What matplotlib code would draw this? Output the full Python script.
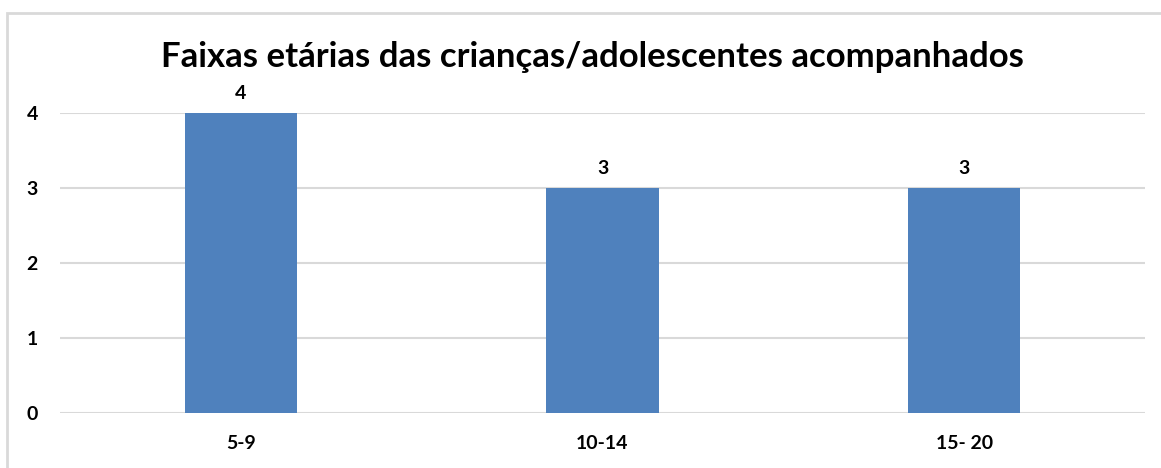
import matplotlib
matplotlib.use("Agg")
import matplotlib.pyplot as plt
from matplotlib.patches import Rectangle

# age groups and number of children/adolescents
categories = ["5-9", "10-14", "15- 20"]
values = [4, 3, 3]
yticks = [0, 1, 2, 3, 4]

plt.rcParams['font.family'] = ['Lato', 'DejaVu Sans']

W, H = 1161, 468
fig = plt.figure(figsize=(W / 100, H / 100), dpi=100)

# light grey frame round the chart area (cut off right and bottom)
fig.patches.append(Rectangle((7 / W, -0.1), 1.2, (H - 13) / H + 0.1,
                             transform=fig.transFigure, fill=False,
                             edgecolor='#D9D9D9', linewidth=2))

ax = fig.add_axes([60 / W, (H - 413) / H, (1145 - 60) / W, 300 / H])
x = range(len(categories))
bars = ax.bar(x, values, width=0.31, color='#4F81BD', zorder=3)

for xi, v in zip(x, values):
    ax.text(xi, v + 0.15, str(v), ha='center', va='bottom',
            fontsize=14, fontweight='bold')

ax.set_xlim(-0.5, len(categories) - 0.5)
ax.set_ylim(0, 4)
ax.set_yticks(yticks)
ax.set_yticklabels([str(t) for t in yticks], fontsize=14, fontweight='bold')
ax.set_xticks(list(x))
ax.set_xticklabels(categories, fontsize=14, fontweight='bold')
ax.tick_params(length=0)
ax.tick_params(axis='y', pad=16)
ax.tick_params(axis='x', pad=16)
ax.grid(axis='y', color='#D9D9D9', linewidth=1.5, zorder=0)
ax.set_axisbelow(True)
for s in ax.spines.values():
    s.set_visible(False)

fig.text(592 / W, (H - 57) / H, "Faixas etárias das crianças/adolescentes acompanhados",
         ha='center', va='center', fontsize=25, fontweight='bold')

fig.savefig("out.png", dpi=100)
